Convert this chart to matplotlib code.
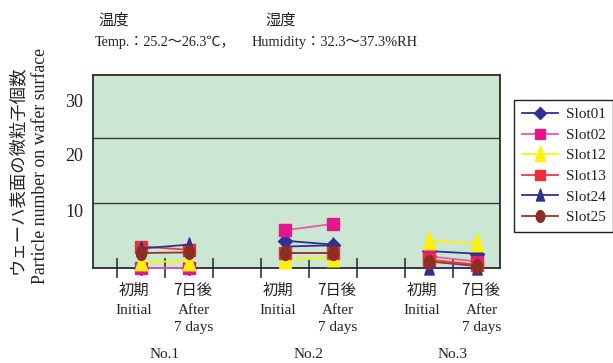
import numpy as np
import matplotlib
matplotlib.use("Agg")
import matplotlib.pyplot as plt
from matplotlib.path import Path
from matplotlib.transforms import Affine2D

SERIF = ["Liberation Serif", "Noto Sans CJK JP", "DejaVu Sans"]
JP = ["Noto Sans CJK JP", "Liberation Serif", "DejaVu Sans"]
plt.rcParams["font.family"] = SERIF
plt.rcParams["text.color"] = "#222222"
plt.rcParams["ytick.labelcolor"] = "#222222"

# measurement groups and time points
groups = ["No.1", "No.2", "No.3"]
time_jp = ["初期", "7日後"]
time_en = ["Initial", "After", "7 days"]

# particle counts per slot: [No.1 initial, No.1 after, No.2 initial, No.2 after, No.3 initial, No.3 after]
slot_names = ["Slot01", "Slot02", "Slot12", "Slot13", "Slot24", "Slot25"]
slot01 = [0.0, 0.0, 4.2, 3.6, 2.6, 2.2]
slot02 = [0.0, 0.0, 5.8, 6.8, 1.8, 1.0]
slot12 = [1.0, 1.0, 1.2, 1.6, 4.2, 3.8]
slot13 = [3.3, 2.8, 2.3, 2.3, 1.3, 0.5]
slot24 = [3.0, 3.6, 3.3, 3.5, 0.0, 0.0]
slot25 = [2.3, 2.4, 2.3, 2.3, 1.0, 0.3]

yticks = [8.9, 17.4, 25.8]
ytick_labels = ["10", "20", "30"]
grid_values = [10, 20]

ellipse = Path.unit_circle().transformed(Affine2D().scale(0.72, 1.0))
tall_tri = Path([(-0.62, -0.85), (0.62, -0.85), (0.0, 1.0), (-0.62, -0.85)],
                [Path.MOVETO, Path.LINETO, Path.LINETO, Path.CLOSEPOLY])

styles = [
    dict(color="#2e3192", marker="D", ms=7, mfc="#2e3192", mec="#2e3192"),
    dict(color="#e85ba0", marker="s", ms=9, mfc="#e5168b", mec="#e5168b"),
    dict(color="#fff200", marker=tall_tri, ms=14, mfc="#fff200", mec="#fff200"),
    dict(color="#ee3a3f", marker="s", ms=9, mfc="#ee2f36", mec="#ee2f36"),
    dict(color="#2e3192", marker=tall_tri, ms=11, mfc="#2e3192", mec="#2e3192"),
    dict(color="#9b3528", marker=ellipse, ms=10, mfc="#8e2e23", mec="#8e2e23"),
]
series = [slot01, slot02, slot12, slot13, slot24, slot25]

# x positions: two points per group with a gap between groups
xpos = [1, 2, 4, 5, 7, 8]
def with_gaps(vals):
    xs, ys = [], []
    for g in range(3):
        xs += [xpos[2 * g], xpos[2 * g + 1], np.nan]
        ys += [vals[2 * g], vals[2 * g + 1], np.nan]
    return xs, ys

fig = plt.figure(figsize=(6.13, 3.63), dpi=100)
ax = fig.add_axes([93 / 613, 1 - 268 / 363, 407 / 613, 193 / 363])
ax.set_facecolor("#cce6d4")
ax.set_xlim(0, 8.48)
ax.set_ylim(0, 29.7)

for y in grid_values:
    ax.axhline(y, color="#3a3a3a", lw=1.0, zorder=1)

handles = []
for name, vals, st in zip(slot_names, series, styles):
    xs, ys = with_gaps(vals)
    ln, = ax.plot(xs, ys, lw=1.3, clip_on=False, zorder=3, label=name, **st)
    handles.append(ln)

for sp in ax.spines.values():
    sp.set_color("#2a2a2a")
    sp.set_linewidth(1.3)

ax.set_yticks(yticks)
ax.set_yticklabels(ytick_labels, fontsize=13)
ax.tick_params(axis="y", length=0, pad=7)
ax.set_xticks([0.5, 1.5, 2.5, 3.5, 4.5, 5.5, 6.5, 7.5])
ax.set_xticklabels([])
ax.tick_params(axis="x", direction="inout", length=14, width=1.2, color="#333333")

# category labels under the axis
for g, name in enumerate(groups):
    xi, xa = xpos[2 * g], xpos[2 * g + 1]
    ax.text(xi - 0.15, -3.4, time_jp[0], ha="center", va="center", fontsize=11, family=JP)
    ax.text(xa + 0.07, -3.4, time_jp[1], ha="center", va="center", fontsize=11, family=JP)
    ax.text(xi - 0.15, -6.5, time_en[0], ha="center", va="center", fontsize=11)
    ax.text(xa + 0.1, -6.5, time_en[1], ha="center", va="center", fontsize=11)
    ax.text(xa + 0.1, -9.1, time_en[2], ha="center", va="center", fontsize=11)
    ax.text((xi + xa) / 2, -13.3, name, ha="center", va="center", fontsize=11)

# axis titles
fig.text(17 / 613, 1 - 170 / 363, "ウェーハ表面の微粒子個数", rotation=90,
         ha="center", va="center", fontsize=12.5, family=JP)
fig.text(41 / 613, 1 - 166 / 363, "Particle number on wafer surface", rotation=90,
         ha="center", va="center", fontsize=12.8)

# measurement conditions
fig.text(98 / 613, 1 - 20 / 363, "温度", ha="left", va="center", fontsize=11, family=JP)
fig.text(95 / 613, 1 - 42 / 363, "Temp.：25.2～26.3℃，", ha="left", va="center", fontsize=10.2)
fig.text(265 / 613, 1 - 20 / 363, "湿度", ha="left", va="center", fontsize=11, family=JP)
fig.text(252 / 613, 1 - 42 / 363, "Humidity：32.3～37.3%RH", ha="left", va="center", fontsize=10.4)

leg = fig.legend(handles=handles, loc="upper left",
                 bbox_to_anchor=(514 / 613, 1 - 100 / 363), borderaxespad=0,
                 fancybox=False, edgecolor="#222222", framealpha=1, fontsize=11,
                 handlelength=2.4, labelspacing=0.45, markerscale=0.85,
                 borderpad=0.5, handletextpad=0.5)
leg.get_frame().set_linewidth(1.0)

fig.savefig("out.png", dpi=100)
